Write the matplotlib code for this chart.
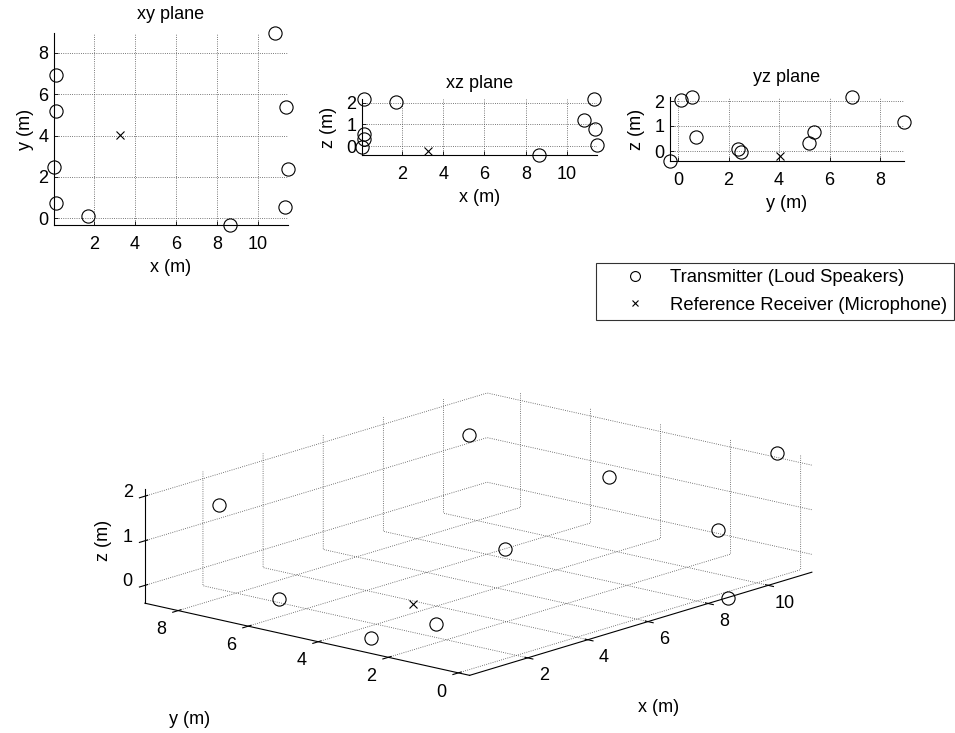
import numpy as np
import matplotlib
matplotlib.use("Agg")
import matplotlib.pyplot as plt
from matplotlib.lines import Line2D

# speaker (transmitter) positions in metres
tx_x = [0.15, 0.15, 0.07, 0.15, 1.72, 8.65, 10.83, 11.35, 11.45, 11.30]
tx_y = [6.90, 5.20, 2.50, 0.72, 0.10, -0.32, 8.95, 5.38, 2.36, 0.55]
tx_z = [2.15, 0.33, -0.05, 0.55, 2.03, -0.40, 1.18, 0.77, 0.07, 2.16]

# microphone (reference receiver) position
rx_x = [3.27]
rx_y = [4.03]
rx_z = [-0.20]

x_ticks = [2, 4, 6, 8, 10]
y_ticks = [0, 2, 4, 6, 8]
z_ticks = [0, 1, 2]

plt.rcParams["font.family"] = ["Liberation Sans", "DejaVu Sans"]
plt.rcParams["font.size"] = 13
plt.rcParams["grid.linestyle"] = ":"
plt.rcParams["grid.color"] = "0.3"
plt.rcParams["grid.linewidth"] = 0.6
plt.rcParams["axes.linewidth"] = 0.8

W, H = 955, 733
fig = plt.figure(figsize=(W / 100, H / 100), dpi=100)


def px_axes(left, top, right, bottom, **kw):
    return fig.add_axes([left / W, 1 - bottom / H, (right - left) / W, (bottom - top) / H], **kw)


tx_style = dict(linestyle="none", marker="o", markersize=9.5, markerfacecolor="none",
                markeredgecolor="k", markeredgewidth=0.8)
rx_style = dict(linestyle="none", marker="x", markersize=6, color="k", markeredgewidth=0.8)

xs = np.array(tx_x + rx_x)
ys = np.array(tx_y + rx_y)
zs = np.array(tx_z + rx_z)

# 3D view of the whole set-up (added first so the flat views sit on top)
cx, cy, side = 470, 539, 620
ax3 = fig.add_axes([(cx - side / 2) / W, 1 - (cy + side / 2) / H, side / W, side / H],
                   projection="3d", proj_type="ortho")
ax3.set_facecolor("none")
ax3.plot(tx_x, tx_y, tx_z, clip_on=False, **tx_style)
ax3.plot(rx_x, rx_y, rx_z, clip_on=False, **rx_style)
ax3.set_xlim(xs.min(), xs.max())
ax3.set_ylim(ys.min(), ys.max())
ax3.set_zlim(zs.min(), zs.max())
ax3.set_box_aspect((np.ptp(xs), np.ptp(ys), np.ptp(zs)), zoom=1.077)
ax3.view_init(elev=15, azim=-139.35)
ax3.set_xticks(x_ticks)
ax3.set_yticks(y_ticks)
ax3.set_zticks(z_ticks)
ax3.tick_params(axis="z", pad=-2)
for t in ax3.zaxis.get_ticklabels():
    t.set_verticalalignment("baseline")
for axis in (ax3.xaxis, ax3.yaxis, ax3.zaxis):
    axis.set_pane_color((1, 1, 1, 0))
    axis.line.set_linewidth(0.8)
fig.text(659 / W, 1 - 708 / H, "x (m)", ha="center", va="center")
fig.text(190 / W, 1 - 720 / H, "y (m)", ha="center", va="center")
fig.text(103 / W, 1 - 540 / H, "z (m)", ha="center", va="center", rotation=90)


def plane(ax, a, b, ta, tb, ra, rb, a_ticks, b_ticks, xlabel, ylabel, title, tpad, ypad):
    ax.plot(ta, tb, **tx_style)
    ax.plot(ra, rb, **rx_style)
    ax.set_xlim(min(a), max(a))
    ax.set_ylim(min(b), max(b))
    ax.set_xticks(a_ticks)
    ax.set_yticks(b_ticks)
    ax.grid(True)
    for s in ("top", "right"):
        ax.spines[s].set_visible(False)
    ax.tick_params(axis="x", direction="in", length=3, width=0.6, pad=8)
    ax.tick_params(axis="y", direction="in", length=3, width=0.6, pad=4)
    ax.set_xlabel(xlabel, labelpad=4)
    ax.set_ylabel(ylabel, labelpad=ypad)
    ax.set_title(title, fontsize=13, pad=tpad)
    for m in ax.lines:
        m.set_clip_on(False)


ax_xy = px_axes(54, 33, 288, 225)
plane(ax_xy, xs, ys, tx_x, tx_y, rx_x, rx_y, x_ticks, [0, 2, 4, 6, 8],
      "x (m)", "y (m)", "xy plane", 10, 3)

ax_xz = px_axes(362, 99, 597, 155)
plane(ax_xz, xs, zs, tx_x, tx_z, rx_x, rx_z, x_ticks, z_ticks,
      "x (m)", "z (m)", "xz plane", 8, 7)

ax_yz = px_axes(670, 97, 904, 161)
plane(ax_yz, ys, zs, tx_y, tx_z, rx_y, rx_z, [0, 2, 4, 6, 8], z_ticks,
      "y (m)", "z (m)", "yz plane", 11, 7)

# legend box to the right, under the yz plane
handles = [Line2D([], [], **tx_style), Line2D([], [], **rx_style)]
leg = fig.legend(handles, ["Transmitter (Loud Speakers)", "Reference Receiver (Microphone)"],
                 loc="upper right", bbox_to_anchor=(954 / W, 1 - 263 / H),
                 borderaxespad=0, frameon=True, fancybox=False, edgecolor="k",
                 fontsize=13.3, markerscale=0.75, handlelength=3.6, handletextpad=0.1,
                 borderpad=0.35, labelspacing=0.55)
leg.get_frame().set_linewidth(0.8)

fig.savefig("out.png", dpi=100)
